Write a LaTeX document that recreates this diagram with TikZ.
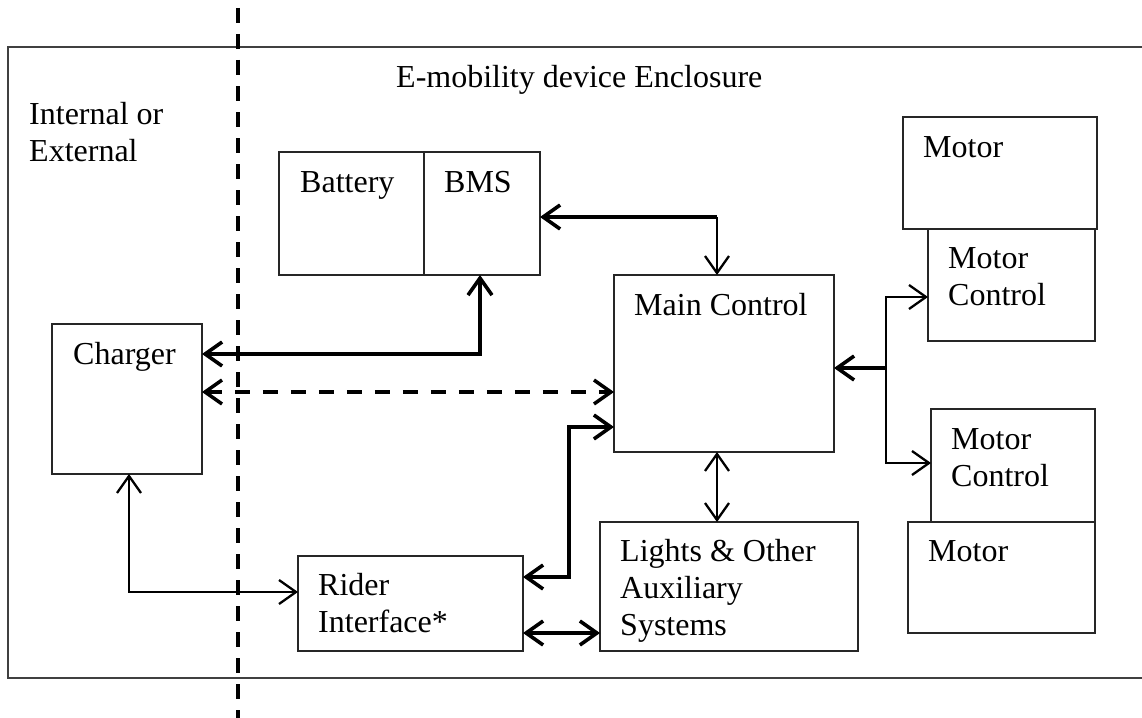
\documentclass[tikz,border=0pt]{standalone}
\usepackage{fontspec}
\setmainfont{Liberation Serif}
\usetikzlibrary{arrows.meta,calc}
\newcommand\mlines[1]{\vtop{\halign{##\hfil\cr#1\crcr}}}
\tikzset{
  myb/.tip={Straight Barb[length=17pt,width=24pt]},
  box/.style={draw=black!85, line width=1.3pt, anchor=north west, inner sep=0pt, outer sep=0pt},
  lbl/.style={anchor=base west, inner sep=0pt, font=\fontsize{32}{37}\selectfont},
  thk/.style={line width=3.6pt},
  thn/.style={line width=2.3pt},
  encl/.style={draw=black!75, line width=1.5pt},
  divider/.style={line width=3.5pt, dash pattern=on 15pt off 11pt},
  dsh/.style={line width=3.5pt, dash pattern=on 15pt off 13pt}
}
\begin{document}
\begin{tikzpicture}[x=1pt,y=-1pt]
\useasboundingbox (0,0) rectangle (1142,717);
\clip (0,0) rectangle (1142,717);
% enclosure
\draw[encl] (1150,47) -- (8,47) -- (8,678) -- (1150,678);
\node[lbl] (enclT) at (396,87) {E-mobility device Enclosure};
\node[lbl] (ioe) at (29,124) {\mlines{Internal or\cr External}};
% boxes
\node[box, minimum width=145pt, minimum height=123pt] (batt) at (279,152) {};
\node[box, minimum width=116pt, minimum height=123pt] (bms) at (424,152) {};
\node[box, minimum width=150pt, minimum height=150pt] (charger) at (52,324) {};
\node[box, minimum width=220pt, minimum height=177pt] (main) at (614,275) {};
\node[box, minimum width=194pt, minimum height=112pt] (motor1) at (903,117) {};
\node[box, minimum width=167pt, minimum height=112pt] (mc1) at (928,229) {};
\node[box, minimum width=164pt, minimum height=113pt] (mc2) at (931,409) {};
\node[box, minimum width=187pt, minimum height=111pt] (motor2) at (908,522) {};
\node[box, minimum width=225pt, minimum height=95pt] (rider) at (298,556) {};
\node[box, minimum width=258pt, minimum height=129pt] (lights) at (600,522) {};
% labels
\node[lbl] (battT) at (300,192) {Battery};
\node[lbl] (bmsT) at (444,192) {BMS};
\node[lbl] (chargerT) at (73,364) {Charger};
\node[lbl] (mainT) at (634,315) {Main Control};
\node[lbl] (motor1T) at (923,157) {Motor};
\node[lbl] (mc1T) at (948,268) {\mlines{Motor\cr Control}};
\node[lbl] (mc2T) at (951,449) {\mlines{Motor\cr Control}};
\node[lbl] (motor2T) at (928,561) {Motor};
\node[lbl] (riderT) at (318,595) {\mlines{Rider\cr Interface*}};
\node[lbl] (lightsT) at (620,561) {\mlines{Lights \& Other\cr Auxiliary\cr Systems}};
% divider
\coordinate (dtop) at (238,8);
\coordinate (dbot) at (238,720);
\draw[divider] (dtop) -- (dbot);
% connectors
\coordinate (j1) at (717,217);
\draw[thk, -myb] (j1) -- (j1 -| bms.east);
\draw[thn, -myb] (j1) -- (j1 |- main.north);
\coordinate (j2) at (480,354);
\draw[thk, myb-myb] (j2 -| charger.east) -- (j2) -- (j2 |- bms.south);
\coordinate (j3) at (0,392);
\draw[dsh, myb-myb] (j3 -| charger.east) -- (j3 -| main.west);
\coordinate (j4a) at (569,577);
\coordinate (j4b) at (569,427);
\draw[thk, myb-myb] (j4a -| rider.east) -- (j4a) -- (j4b) -- (j4b -| main.west);
\coordinate (j5) at (129,592);
\draw[thn, myb-myb] (j5 |- charger.south) -- (j5) -- (j5 -| rider.west);
\coordinate (j6) at (0,633);
\draw[thk, myb-myb] (j6 -| rider.east) -- (j6 -| lights.west);
\coordinate (j7) at (717,0);
\draw[thn, myb-myb] (j7 |- main.south) -- (j7 |- lights.north);
\coordinate (j8) at (886,368);
\coordinate (j8a) at (886,297);
\coordinate (j8b) at (886,463);
\draw[thk, -myb] (j8) -- (j8 -| main.east);
\draw[thn, myb-myb] (j8a -| mc1.west) -- (j8a) -- (j8b) -- (j8b -| mc2.west);
\end{tikzpicture}
\end{document}
